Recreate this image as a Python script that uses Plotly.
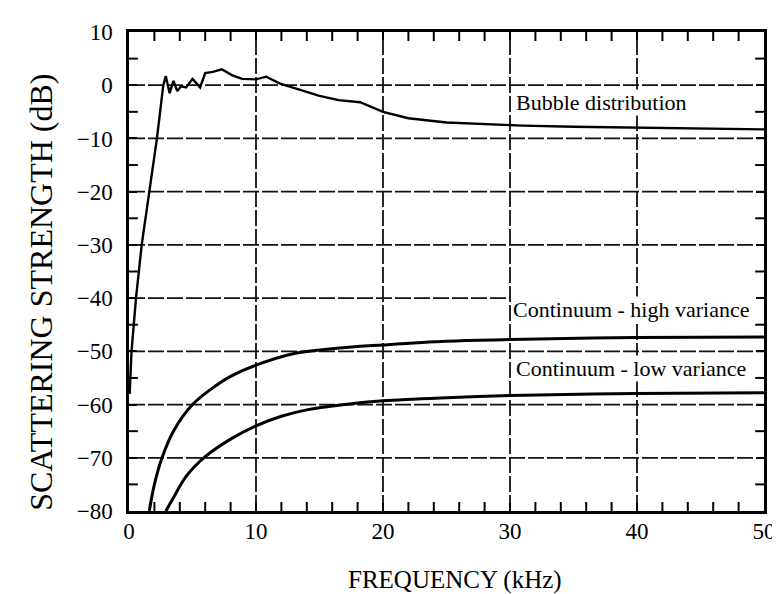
import plotly.graph_objects as go

# ---- data ----
bubble_f = [0.05, 0.2, 0.55, 1.0, 1.6, 2.2, 2.7, 2.9, 3.2, 3.5, 3.8, 4.1, 4.5, 5.0, 5.6,
            6.0, 6.6, 7.3, 8.1, 8.9, 10.0, 10.8, 11.9, 13.5, 15.0, 16.5, 18.2, 20.0,
            22.0, 25.0, 27.5, 31.0, 35.0, 40.0, 45.0, 50.0]
bubble_db = [-58, -50, -40, -30, -20, -10, 0, 1.7, -1.5, 0.8, -1.1, -0.2, -0.4, 1.2, -0.4,
             2.3, 2.5, 3.0, 1.9, 1.2, 1.1, 1.6, 0.3, -0.9, -2.0, -2.8, -3.2, -5.0,
             -6.2, -7.0, -7.3, -7.6, -7.8, -8.0, -8.1, -8.3]

high_f = [1.6, 2.0, 2.6, 3.5, 5.0, 6.8, 8.0, 10.0, 13.0, 16.0, 20.0, 25.0, 30.0, 40.0, 50.0]
high_db = [-80, -75, -70, -65, -60, -56.5, -54.7, -52.6, -50.4, -49.5, -48.8, -48.1, -47.8, -47.4, -47.3]

low_f = [2.9, 3.5, 4.5, 6.0, 8.0, 10.0, 12.0, 14.0, 17.0, 20.0, 25.0, 30.0, 40.0, 50.0]
low_db = [-80, -77.5, -73.5, -69.8, -66.5, -64.0, -62.2, -61.0, -60.0, -59.3, -58.7, -58.3, -57.9, -57.8]

labels = ["Bubble distribution", "Continuum - high variance", "Continuum - low variance"]
label_f = [37.2, 39.5, 39.5]
label_db = [-3.3, -42.1, -53.2]

x_title = "FREQUENCY (kHz)"
y_title = "SCATTERING STRENGTH (dB)"

grid_y = [0, -10, -20, -30, -40, -50, -60, -70]
grid_y_end = {-40: 30}
grid_x = [10, 20, 30, 40]

minor_x = [2, 4, 6, 8, 12, 14, 16, 18, 22, 24, 26, 28, 32, 34, 36, 38, 42, 44, 46, 48]
minor_y = [5, -5, -15, -25, -35, -45, -55, -65, -75]

X_RANGE = [0, 50]
Y_RANGE = [-80, 10]

SERIF = "Liberation Serif, Times New Roman, serif"

fig = go.Figure()
fig.add_trace(go.Scatter(x=bubble_f, y=bubble_db, mode="lines",
                         line=dict(color="black", width=2.4), showlegend=False))
fig.add_trace(go.Scatter(x=high_f, y=high_db, mode="lines", line_shape="spline",
                         line=dict(color="black", width=3), showlegend=False))
fig.add_trace(go.Scatter(x=low_f, y=low_db, mode="lines", line_shape="spline",
                         line=dict(color="black", width=3), showlegend=False))

shapes = []
for g in grid_y:
    shapes.append(dict(type="line", xref="x", yref="y", x0=0, x1=grid_y_end.get(g, 50),
                       y0=g, y1=g, layer="below",
                       line=dict(color="#111", width=1.8, dash="16px,3px")))
for g in grid_x:
    shapes.append(dict(type="line", xref="x", yref="y", x0=g, x1=g, y0=-80, y1=10,
                       layer="below",
                       line=dict(color="#111", width=1.8, dash="16px,3px")))

# minor ticks (inside, on all four sides)
TICK_Y_FRAC = 9 / 479
TICK_X_FRAC = 9 / 647
for v in minor_x:
    shapes.append(dict(type="line", xref="x", yref="y domain", x0=v, x1=v,
                       y0=0, y1=TICK_Y_FRAC, layer="above",
                       line=dict(color="black", width=2)))
    shapes.append(dict(type="line", xref="x", yref="y domain", x0=v, x1=v,
                       y0=1, y1=1 - TICK_Y_FRAC, layer="above",
                       line=dict(color="black", width=2)))
for v in minor_y:
    shapes.append(dict(type="line", xref="x domain", yref="y", x0=0, x1=TICK_X_FRAC,
                       y0=v, y1=v, layer="above",
                       line=dict(color="black", width=2)))
    shapes.append(dict(type="line", xref="x domain", yref="y", x0=1, x1=1 - TICK_X_FRAC,
                       y0=v, y1=v, layer="above",
                       line=dict(color="black", width=2)))

annotations = []
for t, xf, yd in zip(labels, label_f, label_db):
    annotations.append(dict(x=xf, y=yd, xref="x", yref="y", text=t, showarrow=False,
                            font=dict(family=SERIF, size=22, color="black"),
                            bgcolor="white", borderpad=0))
annotations.append(dict(x=0.513, y=-0.144, xref="paper", yref="paper", text=x_title,
                        showarrow=False, xanchor="center", yanchor="middle",
                        font=dict(family=SERIF, size=25, color="black")))
annotations.append(dict(x=-0.139, y=0.457, xref="paper", yref="paper", text=y_title,
                        showarrow=False, xanchor="center", yanchor="middle", textangle=-90,
                        font=dict(family=SERIF, size=32, color="black")))

fig.update_layout(
    width=780, height=594,
    margin=dict(l=121, r=12, t=24, b=91),
    paper_bgcolor="white", plot_bgcolor="white",
    shapes=shapes, annotations=annotations,
    font=dict(family=SERIF, color="black"),
    xaxis=dict(range=X_RANGE, tickmode="linear", tick0=0, dtick=10,
               showgrid=False, zeroline=False,
               showline=True, linecolor="black", linewidth=2.5, mirror="allticks",
               ticks="inside", ticklen=8, tickwidth=2, tickcolor="black",
               tickfont=dict(family=SERIF, size=23), ticklabelstandoff=-2),
    yaxis=dict(range=Y_RANGE, tickmode="linear", tick0=0, dtick=10,
               showgrid=False, zeroline=False,
               showline=True, linecolor="black", linewidth=2.5, mirror="allticks",
               ticks="inside", ticklen=8, tickwidth=2, tickcolor="black",
               tickfont=dict(family=SERIF, size=23), ticklabelstandoff=9),
)

fig.write_html("out.html")
